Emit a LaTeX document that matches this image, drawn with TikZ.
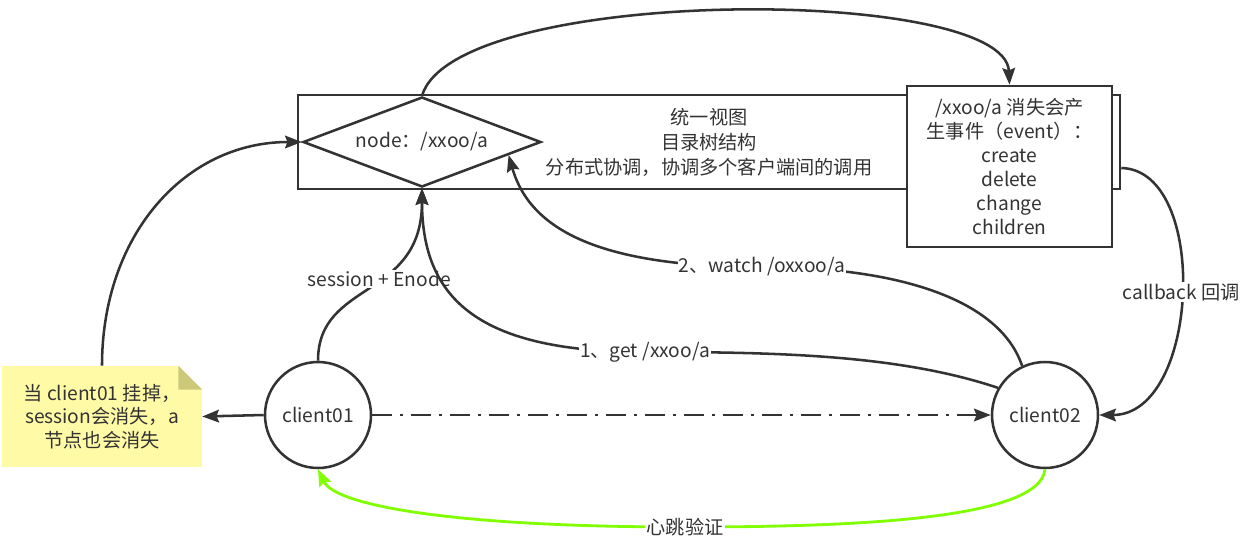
\documentclass[tikz,border=0pt]{standalone}
\usepackage{fontspec}
\setmainfont{Noto Sans CJK SC}
\usetikzlibrary{shapes.geometric,arrows.meta,calc}
\definecolor{ink}{HTML}{333333}
\definecolor{beat}{HTML}{80FF00}
\definecolor{noteyellow}{HTML}{FFFAA5}
\definecolor{notefold}{HTML}{CCCA7A}
\begin{document}
\begin{tikzpicture}[x=0.75pt,y=-0.75pt,
  color=ink,
  font=\fontsize{14.4pt}{18pt}\selectfont,
  conn/.style={draw=ink, line width=1.9pt, -{Stealth[length=12.5pt,width=9.5pt,inset=1.8pt]}},
  lbl/.style={fill=white, inner sep=1pt, text=ink},
  circ/.style={circle, draw=ink, fill=white, minimum size=79.5pt, inner sep=0pt, line width=1.9pt},
  box/.style={draw=ink, line width=1.9pt, inner sep=0pt, align=center},
  ]
\useasboundingbox (0,0) rectangle (1245,550);

% main view rectangle
\node[box, minimum width=616.5pt, minimum height=70.5pt, font=\fontsize{14.4pt}{18.75pt}\selectfont] (view) at (709,142) {统一视图\\目录树结构\\分布式协调，协调多个客户端间的调用};

% diamond
\node[diamond, aspect=2.64, draw=ink, line width=1.9pt, fill=white, minimum width=178.5pt, minimum height=67.5pt, inner sep=0pt] (d) at (422,142) {node：/xxoo/a};
\coordinate (dw) at ($(d.east)!0.28!(d.south)$);

% event box
\node[box, fill=white, minimum width=153.75pt, minimum height=120.75pt] (ev) at (1009.5,166.5) {/xxoo/a 消失会产\\生事件（event）：\\create\\delete\\change\\children};

% clients
\node[circ] (c1) at (318,415) {client01};
\node[circ] (c2) at (1045,415) {client02};

% note
\node[fill=noteyellow, minimum width=150pt, minimum height=75.75pt, inner sep=0pt, align=center, font=\fontsize{14.4pt}{17.6pt}\selectfont] (note) at (102,416.5) {当 client01 挂掉，\\session会消失，a\\节点也会消失};
\fill[white] (note.north east) -- ++(-24,0) -- ++(24,24) -- cycle;
\fill[notefold] (note.north east) ++(-24,0) -- ++(0,24) -- ++(24,0) -- cycle;

% connectors
\draw[conn] (d.north) .. controls (455,-15) and (1005,-15) .. (ev.north);
\draw[conn] (note.north) .. controls (102,235) and (185,142) .. (d.west);
\draw[conn] (c1.north) .. controls (318,280) and (422,300) .. (d.south) node[lbl, pos=0.56] {session + Enode};
\draw[conn] (c2.150) .. controls (900,355) and (780,352) .. (645,352) node[lbl] {1、get /xxoo/a} .. controls (480,352) and (422,300) .. (d.south);
\draw[conn] (c2.115) .. controls (1000,300) and (900,267) .. (762,267) node[lbl] {2、watch /oxxoo/a} .. controls (600,267) and (530,230) .. (dw);
\draw[conn] ([yshift=-19.5pt]view.east) .. controls (1210,170) and (1200,415) .. (c2.east) node[lbl, pos=0.5] {callback 回调};
\draw[conn] (c1.west) -- (note.east);
\draw[conn, dash pattern=on 15pt off 6pt on 2.25pt off 6pt] (c1.east) -- (c2.west);
\draw[conn, draw=beat, line width=2.1pt] (c2.south) .. controls (1040,520) and (850,527) .. (685,527) node[lbl] {心跳验证} .. controls (450,527) and (335,505) .. (c1.south);
\end{tikzpicture}
\end{document}
